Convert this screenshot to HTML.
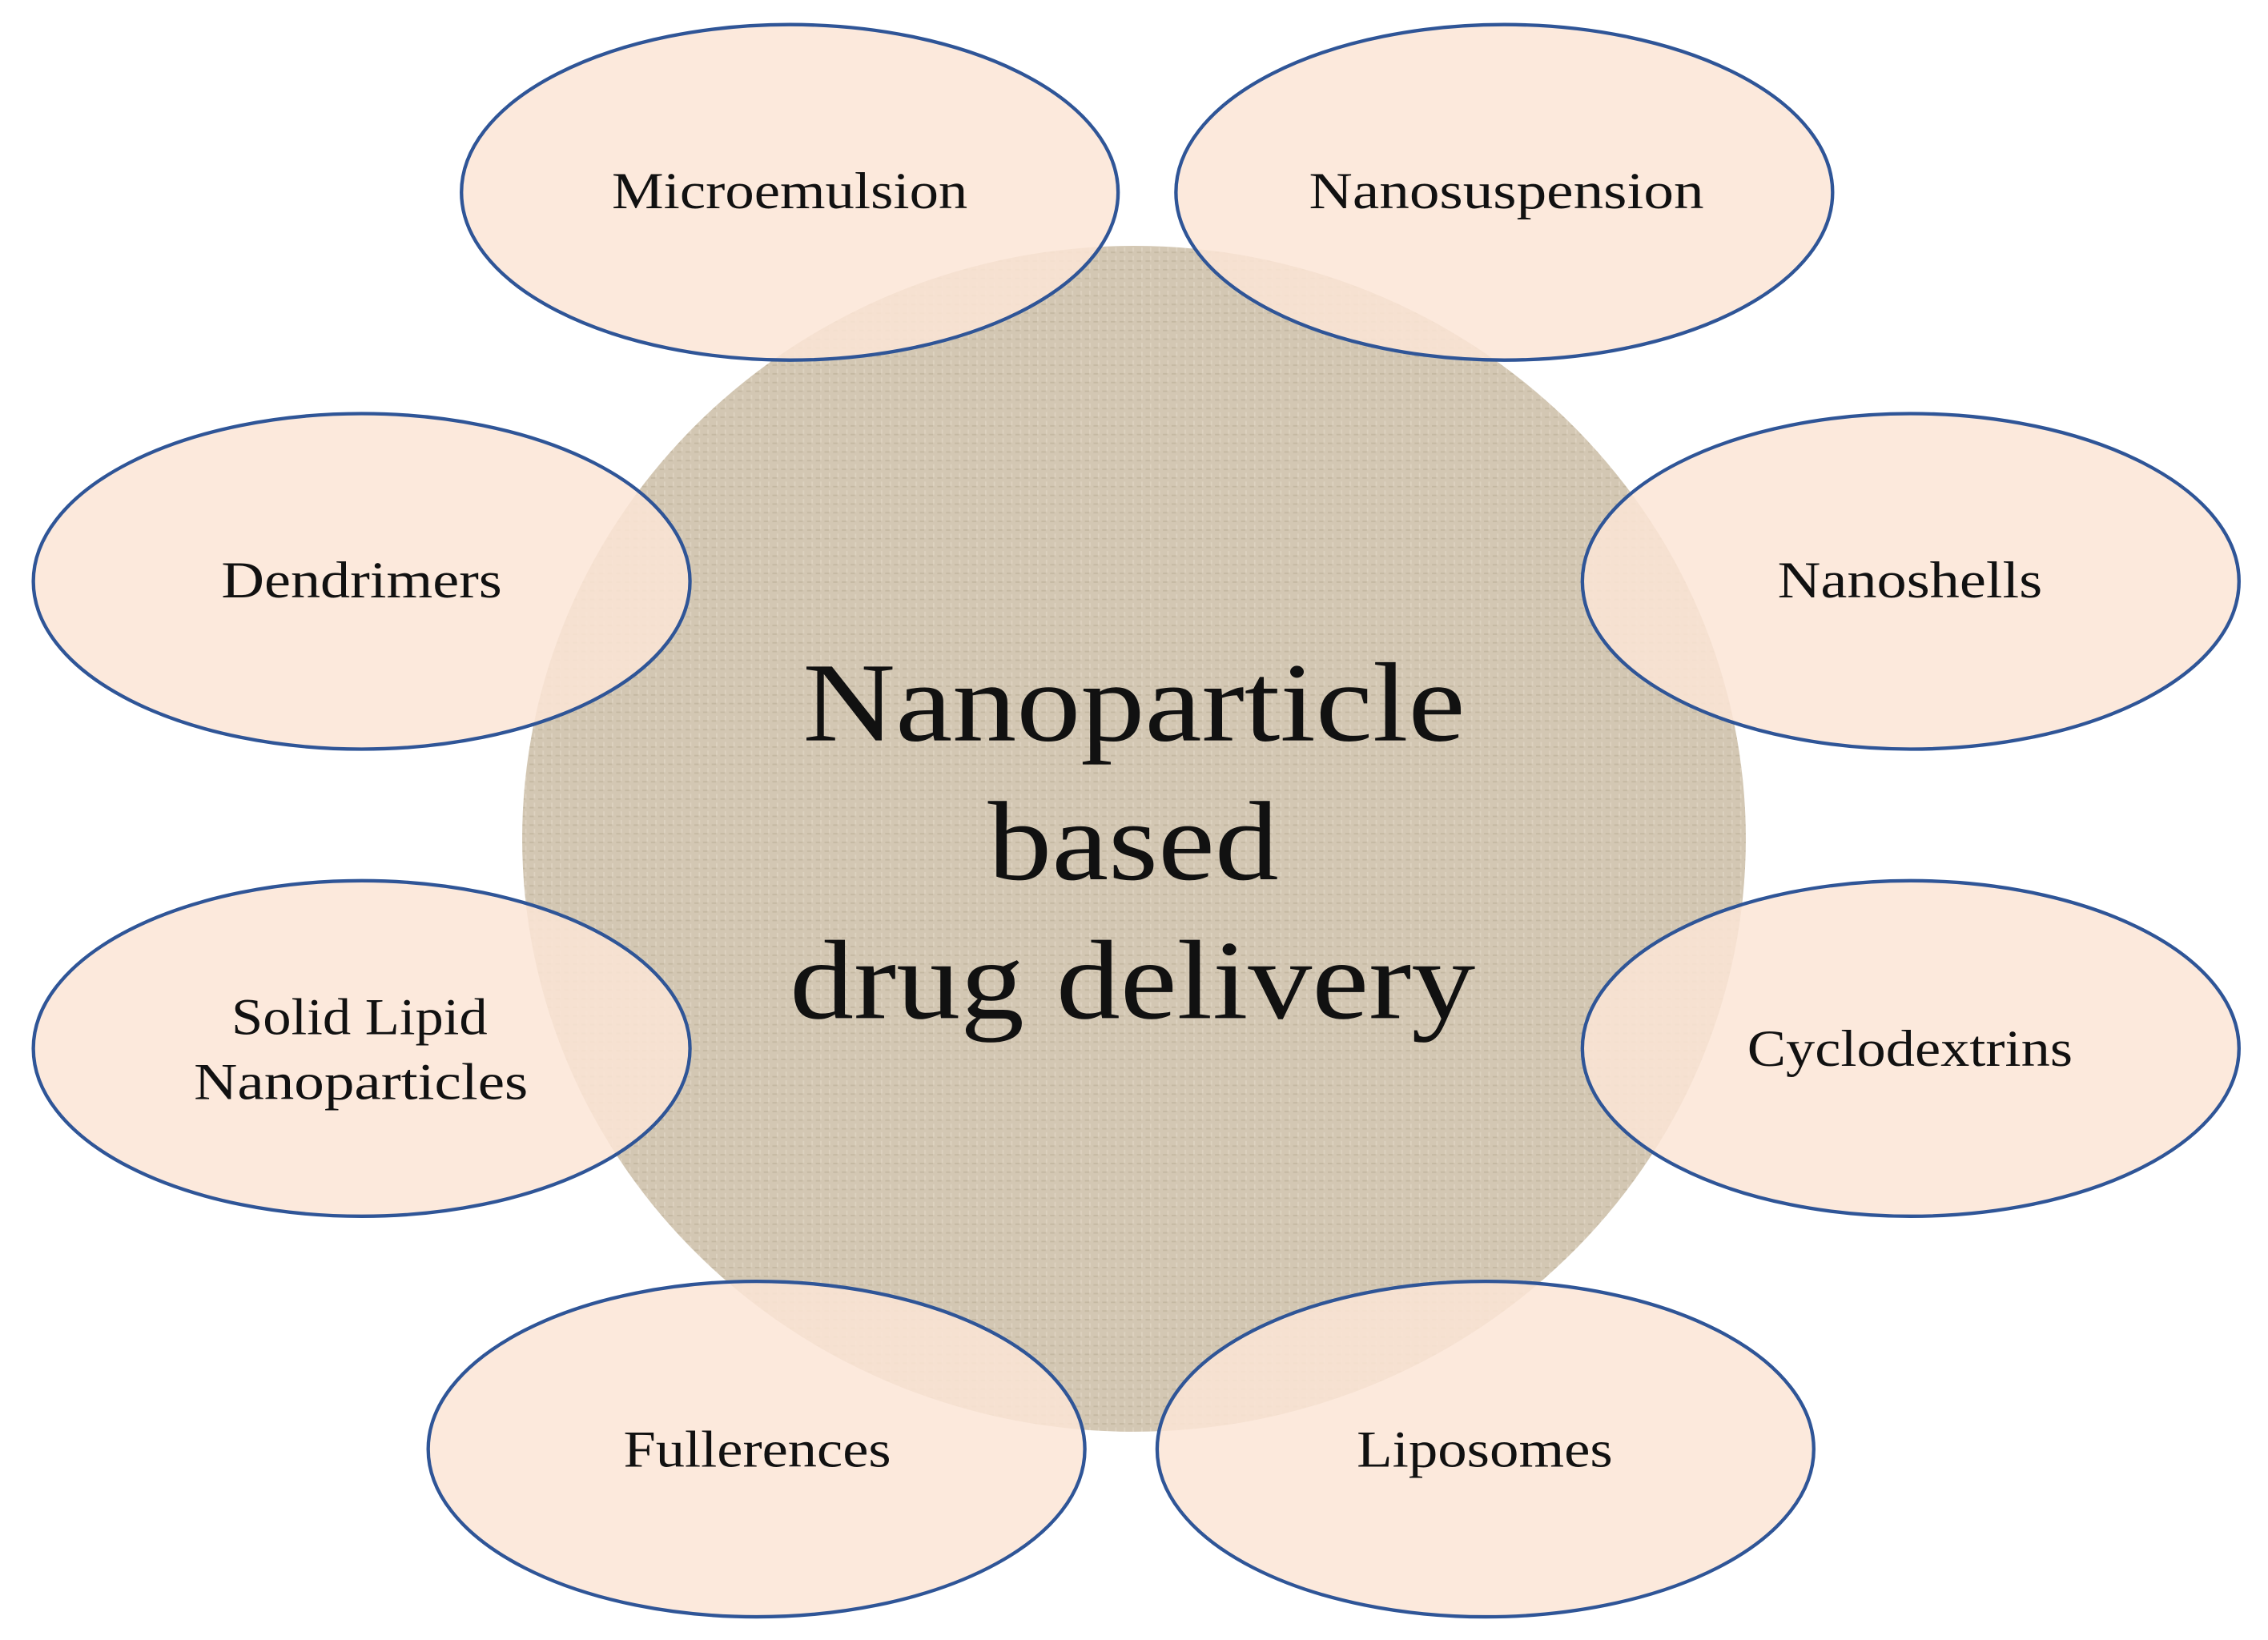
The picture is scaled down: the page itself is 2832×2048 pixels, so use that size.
<!DOCTYPE html>
<html><head><meta charset="utf-8"><style>html,body{margin:0;padding:0;background:#fff}svg{display:block}</style></head>
<body>
<svg width="2832" height="2048" viewBox="0 0 1568 1134" xmlns="http://www.w3.org/2000/svg">
<defs>
<pattern id="tx" width="6" height="6" patternUnits="userSpaceOnUse">
<rect width="6" height="6" fill="#d3c7b3"/>
<rect x="0" y="0" width="3" height="1" fill="#c4b8a2"/>
<rect x="3" y="3" width="1" height="3" fill="#ddd2c0"/>
</pattern>
</defs>
<rect width="1568" height="1134" fill="#fff"/>
<ellipse cx="784" cy="580" rx="423" ry="410" fill="url(#tx)"/>
<g fill="#fbe5d6" fill-opacity="0.85" stroke="#2f5597" stroke-width="2.4">
<ellipse cx="546" cy="133" rx="227" ry="116"/>
<ellipse cx="1040" cy="133" rx="227" ry="116"/>
<ellipse cx="250" cy="402" rx="227" ry="116"/>
<ellipse cx="1321" cy="402" rx="227" ry="116"/>
<ellipse cx="250" cy="725" rx="227" ry="116"/>
<ellipse cx="1321" cy="725" rx="227" ry="116"/>
<ellipse cx="523" cy="1002" rx="227" ry="116"/>
<ellipse cx="1027" cy="1002" rx="227" ry="116"/>
</g>
<g font-family="'Liberation Serif', serif" font-size="36" fill="#111" lengthAdjust="spacingAndGlyphs">
<text x="423" y="144" textLength="246" lengthAdjust="spacingAndGlyphs">Microemulsion</text>
<text x="905" y="144" textLength="273" lengthAdjust="spacingAndGlyphs">Nanosuspension</text>
<text x="153" y="413" textLength="194" lengthAdjust="spacingAndGlyphs">Dendrimers</text>
<text x="1229" y="413" textLength="183" lengthAdjust="spacingAndGlyphs">Nanoshells</text>
<text x="160" y="715" textLength="177" lengthAdjust="spacingAndGlyphs">Solid Lipid</text>
<text x="134" y="760" textLength="231" lengthAdjust="spacingAndGlyphs">Nanoparticles</text>
<text x="1208" y="737" textLength="225" lengthAdjust="spacingAndGlyphs">Cyclodextrins</text>
<text x="431" y="1014" textLength="185" lengthAdjust="spacingAndGlyphs">Fullerences</text>
<text x="938" y="1014" textLength="177" lengthAdjust="spacingAndGlyphs">Liposomes</text>
</g>
<g font-family="'Liberation Serif', serif" font-size="78" fill="#111">
<text x="555" y="512" textLength="458" lengthAdjust="spacingAndGlyphs">Nanoparticle</text>
<text x="683" y="608" textLength="201" lengthAdjust="spacingAndGlyphs">based</text>
<text x="546" y="704" textLength="474" lengthAdjust="spacingAndGlyphs">drug delivery</text>
</g>
</svg>
</body></html>
